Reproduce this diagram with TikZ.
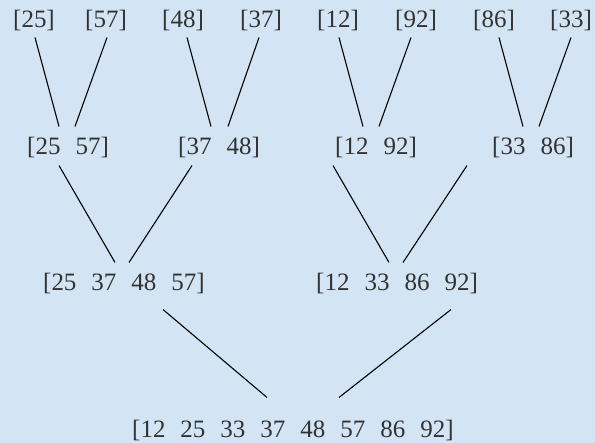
\documentclass[tikz,border=0pt]{standalone}
\usepackage{fontspec}
\setmainfont{Liberation Serif}
\usetikzlibrary{positioning}
\definecolor{bgblue}{RGB}{211,229,244}
\definecolor{txtgray}{RGB}{50,50,50}
\newcommand{\gap}{\hspace{0.6em}}

\begin{document}
\begin{tikzpicture}[
  x=1pt, y=-1pt,
  arr/.style={inner sep=0pt, text=txtgray, font=\fontsize{25}{30}\selectfont},
  link/.style={line width=1.1pt, black},
]
\fill[bgblue] (0,0) rectangle (595,443);

% ---- 第一层 ----
\node[arr] (t1) at (34,21)  {[25]};
\node[arr] (t2) at (106,21) {[57]};
\node[arr] (t3) at (183,21) {[48]};
\node[arr] (t4) at (261,21) {[37]};
\node[arr] (t5) at (338,21) {[12]};
\node[arr] (t6) at (416,21) {[92]};
\node[arr] (t7) at (494,21) {[86]};
\node[arr] (t8) at (571,21) {[33]};

% ---- 第二层 ----
\node[arr] (m1) at (68,148)  {[25\gap57]};
\node[arr] (m2) at (219,148) {[37\gap48]};
\node[arr] (m3) at (376,148) {[12\gap92]};
\node[arr] (m4) at (533,148) {[33\gap86]};

% ---- 第三层 ----
\node[arr] (b1) at (124,284) {[25\gap37\gap48\gap57]};
\node[arr] (b2) at (397,284) {[12\gap33\gap86\gap92]};

% ---- 结果 ----
\node[arr] (r) at (293,431) {[12\gap25\gap33\gap37\gap48\gap57\gap86\gap92]};

% ---- 连线 ----
\draw[link] ([shift={(1,6)}]t1.south)  -- ([shift={(-9,-11)}]m1.north);
\draw[link] ([shift={(1,6)}]t2.south)  -- ([shift={(7,-11)}]m1.north);
\draw[link] ([shift={(4,6)}]t3.south)  -- ([shift={(-8,-11)}]m2.north);
\draw[link] ([shift={(-2,6)}]t4.south) -- ([shift={(9,-11)}]m2.north);
\draw[link] ([shift={(1,6)}]t5.south)  -- ([shift={(-13,-11)}]m3.north);
\draw[link] ([shift={(-5,6)}]t6.south) -- ([shift={(3,-11)}]m3.north);
\draw[link] ([shift={(5,6)}]t7.south)  -- ([shift={(-10,-11)}]m4.north);
\draw[link] ([shift={(0,6)}]t8.south)  -- ([shift={(6,-11)}]m4.north);

\draw[link] ([shift={(-9,7)}]m1.south)  -- ([shift={(-9,-11)}]b1.north);
\draw[link] ([shift={(-27,7)}]m2.south) -- ([shift={(5,-11)}]b1.north);
\draw[link] ([shift={(-43,7)}]m3.south) -- ([shift={(-8,-11)}]b2.north);
\draw[link] ([shift={(-66,7)}]m4.south) -- ([shift={(6,-11)}]b2.north);

\draw[link] ([shift={(39,15)}]b1.south) -- ([shift={(-26,-23)}]r.north);
\draw[link] ([shift={(54,15)}]b2.south) -- ([shift={(46,-23)}]r.north);

\end{tikzpicture}
\end{document}
